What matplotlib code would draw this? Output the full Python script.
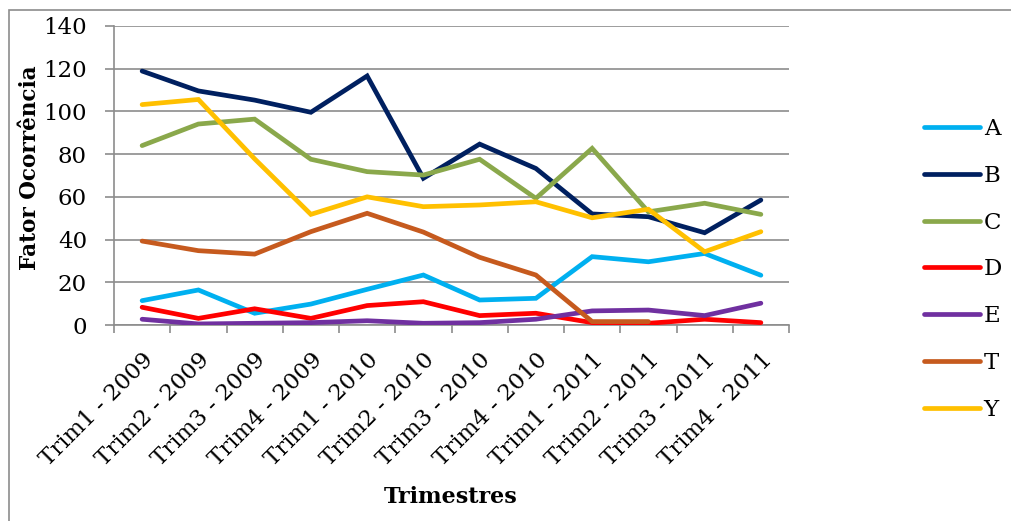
import numpy as np
import matplotlib
matplotlib.use('Agg')
import matplotlib.pyplot as plt
import matplotlib.transforms as mtransforms
from matplotlib.patches import Rectangle

# trimestres on the x axis
quarters = ['Trim1 - 2009', 'Trim2 - 2009', 'Trim3 - 2009', 'Trim4 - 2009',
            'Trim1 - 2010', 'Trim2 - 2010', 'Trim3 - 2010', 'Trim4 - 2010',
            'Trim1 - 2011', 'Trim2 - 2011', 'Trim3 - 2011', 'Trim4 - 2011']

# fator ocorrencia per series
serie_A = [11.4, 16.4, 5.5, 9.8, 16.7, 23.4, 11.7, 12.5, 32.0, 29.6, 33.5, 23.3]
serie_B = [118.9, 109.6, 105.3, 99.6, 116.6, 68.7, 84.7, 73.3, 52.0, 50.7, 43.2, 58.5]
serie_C = [84.0, 94.1, 96.4, 77.6, 71.8, 70.2, 77.6, 59.3, 82.7, 53.0, 57.0, 51.8]
serie_D = [8.3, 3.1, 7.6, 3.1, 9.1, 10.9, 4.4, 5.5, 1.1, 0.8, 2.7, 1.1]
serie_E = [2.7, 0.5, 0.8, 1.1, 2.0, 0.8, 1.1, 2.7, 6.6, 7.0, 4.4, 10.2]
serie_T = [39.3, 34.8, 33.2, 43.7, 52.3, 43.5, 31.7, 23.4, 1.6, 1.6]
serie_Y = [103.2, 105.6, 77.8, 51.8, 60.0, 55.4, 56.2, 57.7, 50.2, 54.2, 34.3, 43.7]

series = [('A', serie_A, '#00B0F0'),
          ('B', serie_B, '#002060'),
          ('C', serie_C, '#8AA84B'),
          ('D', serie_D, '#FF0000'),
          ('E', serie_E, '#7030A0'),
          ('T', serie_T, '#C65A1E'),
          ('Y', serie_Y, '#FFC000')]

FONT = 'DejaVu Serif'
FS = 16.5
GRID = '#8C8C8C'

fig = plt.figure(figsize=(10.12, 5.21), dpi=100)
ax = fig.add_axes([114 / 1012, 1 - 325 / 521, (789 - 114) / 1012, (325 - 26) / 521])

for name, vals, col in series:
    ax.plot(np.arange(len(vals)), vals, color=col, lw=3.4, label=name,
            solid_capstyle='round', solid_joinstyle='miter', zorder=3)

ax.set_xlim(-0.5, len(quarters) - 0.5)
ax.set_ylim(0, 140)
ax.set_yticks(np.arange(0, 141, 20))
ax.yaxis.grid(True, color=GRID, lw=1.2)
ax.set_axisbelow(True)

ax.set_xticks(np.arange(len(quarters)))
ax.set_xticklabels(quarters, rotation=45, ha='right', rotation_mode='anchor',
                   family=FONT, fontsize=FS)
# nudge rotated labels a little to the left
shift = mtransforms.ScaledTranslation(-4 / 100, 0, fig.dpi_scale_trans)
for lab in ax.get_xticklabels():
    lab.set_transform(lab.get_transform() + shift)
ax.set_xticks(np.arange(-0.5, len(quarters)), minor=True)
ax.tick_params(axis='x', which='major', length=0, pad=17)
ax.tick_params(axis='x', which='minor', length=6, width=1.2, color=GRID)
ax.tick_params(axis='y', length=6.5, width=1.2, color=GRID, pad=13)
for lab in ax.get_yticklabels():
    lab.set_family(FONT)
    lab.set_fontsize(FS)

for s in ['top', 'right']:
    ax.spines[s].set_visible(False)
for s in ['left', 'bottom']:
    ax.spines[s].set_color(GRID)
    ax.spines[s].set_linewidth(1.2)

fig.text(30 / 1012, 1 - 168 / 521, 'Fator Ocorrência', rotation=90, ha='center', va='center',
         family=FONT, fontweight='bold', fontsize=15.5)
fig.text(451 / 1012, 1 - 497 / 521, 'Trimestres', ha='center', va='center',
         family=FONT, fontweight='bold', fontsize=16)

leg = ax.legend(loc='upper left', bbox_to_anchor=(915 / 1012, 1 - 109 / 521),
                bbox_transform=fig.transFigure, frameon=False,
                prop={'family': FONT, 'size': FS}, handlelength=2.45,
                handletextpad=0.15, labelspacing=1.08, borderaxespad=0)

# outer chart border (only top and left fall inside the image)
fig.patches.append(Rectangle((8.5 / 1012, -0.1), 1.2, 1 - 9.5 / 521 + 0.1,
                             transform=fig.transFigure, fill=False,
                             edgecolor=GRID, lw=1.2))

fig.savefig('out.png', dpi=100)
